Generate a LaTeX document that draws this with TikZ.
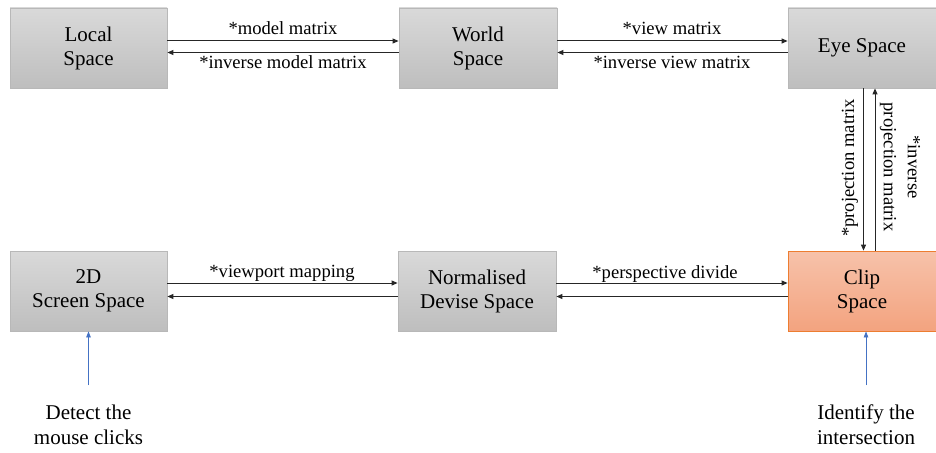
\documentclass[tikz,border=0pt]{standalone}
\usepackage{fontspec}
\setmainfont{Liberation Serif}
\usetikzlibrary{arrows.meta}
\definecolor{boxtop}{HTML}{D9D9D9}
\definecolor{boxbot}{HTML}{BEBEBE}
\definecolor{boxline}{HTML}{B8B8B8}
\definecolor{cliptop}{HTML}{F7C2AA}
\definecolor{clipbot}{HTML}{F3A37F}
\definecolor{clipline}{HTML}{ED7D31}
\definecolor{bluearr}{HTML}{4472C4}
\begin{document}
\begin{tikzpicture}[x=1pt,y=1pt,
  spacebox/.style={draw=boxline, line width=0.8pt, top color=boxtop, bottom color=boxbot,
    minimum height=80pt, inner sep=0pt, align=center, font=\fontsize{21}{24}\selectfont},
  clipbox/.style={spacebox, draw=clipline, top color=cliptop, bottom color=clipbot},
  conn/.style={line width=1pt, draw=black!85, -{Triangle[length=6pt,width=5pt]}},
  lab/.style={font=\fontsize{18.6}{24}\selectfont, inner sep=0pt, anchor=base},
  vlab/.style={font=\fontsize{18.6}{24}\selectfont, inner sep=0pt, align=center},
  note/.style={font=\fontsize{21}{25}\selectfont, inner sep=0pt, align=center, anchor=north},
  blue/.style={line width=0.8pt, draw=bluearr, -{Triangle[length=6pt,width=4.5pt]}, fill=bluearr}
]
\useasboundingbox (0,0) rectangle (936,-452);

\node[spacebox, minimum width=157pt] (local) at (88.5,-48) {Local\\Space};
\node[spacebox, minimum width=158pt] (world) at (478,-48) {World\\Space};
\node[spacebox, minimum width=148pt] (eye) at (862,-48) {Eye Space};
\node[spacebox, minimum width=157pt] (scr) at (88.5,-291) {2D\\Screen Space};
\node[spacebox, minimum width=158pt] (ndc) at (477,-291) {Normalised\\Devise Space};
\node[clipbox, minimum width=148pt] (clip) at (862,-291) {Clip\\Space};

% top row
\draw[conn] ([yshift=7pt]local.east) -- ([yshift=7pt]world.west);
\draw[conn] ([yshift=-4.5pt]world.west) -- ([yshift=-4.5pt]local.east);
\draw[conn] ([yshift=7pt]world.east) -- ([yshift=7pt]eye.west);
\draw[conn] ([yshift=-4.5pt]eye.west) -- ([yshift=-4.5pt]world.east);
\node[lab] (l1) at (283,-35) {*model matrix};
\node[lab] (l2) at (283,-68) {*inverse model matrix};
\node[lab] (l3) at (672,-35) {*view matrix};
\node[lab] (l4) at (672,-68) {*inverse view matrix};

% vertical
\draw[conn] ([xshift=1.5pt]eye.south) -- ([xshift=1.5pt]clip.north);
\draw[conn] ([xshift=13pt]clip.north) -- ([xshift=13pt]eye.south);
\node[vlab, rotate=90] (l5) at (850,-168) {*projection matrix};
\node[vlab, rotate=-90] (l6) at (900,-167) {*inverse\\projection matrix};

% bottom row
\draw[conn] ([yshift=8pt]scr.east) -- ([yshift=8pt]ndc.west);
\draw[conn] ([yshift=-5.5pt]ndc.west) -- ([yshift=-5.5pt]scr.east);
\draw[conn] ([yshift=8pt]ndc.east) -- ([yshift=8pt]clip.west);
\draw[conn] ([yshift=-5.5pt]clip.west) -- ([yshift=-5.5pt]ndc.east);
\node[lab] (l7) at (282,-277) {*viewport mapping};
\node[lab] (l8) at (665,-278) {*perspective divide};

% notes
\node[note] (n1) at (88.5,-405) {Detect the\\mouse clicks};
\node[note] (n2) at (866,-405) {Identify the\\intersection};
\coordinate (s1) at (88.5,-385);
\coordinate (s2) at (866,-385);
\draw[blue] (s1) -- (scr.south);
\draw[blue] (s2) -- (s2 |- clip.south);
\end{tikzpicture}
\end{document}
